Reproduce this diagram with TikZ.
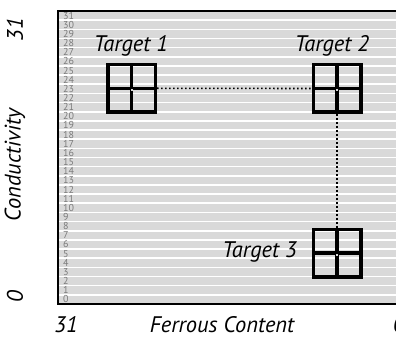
\documentclass[tikz,border=0pt]{standalone}
\usepackage{fontspec}
\setmainfont{PT Sans}
\definecolor{stripe}{HTML}{D9D9D9}
\definecolor{numgray}{HTML}{7A7A7A}
\begin{document}
\begin{tikzpicture}[x=1pt,y=-1pt,
  lbl/.style={font=\fontsize{22.5}{22.5}\selectfont\itshape, inner sep=0pt},
  rownum/.style={font=\fontsize{10}{10}\selectfont, text=numgray, anchor=west, inner sep=0pt},
  targetbox/.style={draw=black, line width=3.5pt, minimum width=47.5pt, minimum height=47.5pt, inner sep=0pt,
    path picture={
      \draw[line width=3.5pt] (path picture bounding box.north) -- (path picture bounding box.south);
      \draw[line width=3.5pt] (path picture bounding box.west) -- (path picture bounding box.east);
      \fill[stripe] ([xshift=-1pt,yshift=-1pt]path picture bounding box.center) rectangle ++(2pt,-2pt);
    }},
  link/.style={line width=1.6pt, dash pattern=on 1.6pt off 2.4pt}
]
\useasboundingbox (0,0) rectangle (396,339);
\clip (0,0) rectangle (396,339);
% stripes
\fill[stripe] (57,11) rectangle (420,304);
\foreach \i in {1,...,31} {
  \draw[white, line width=1.6pt] (58,{304-\i*9.156}) -- (420,{304-\i*9.156});
}
\foreach \i in {0,...,31} {
  \node[rownum] (n\i) at (63,{304-(\i+0.5)*9.156}) {\i};
}
% frame
\draw[line width=2pt] (57.5,11) rectangle (430,304);
% targets
\node[targetbox] (t1) at (131.5,88.3) {};
\node[targetbox] (t2) at (337,88.5) {};
\node[targetbox] (t3) at (337,253) {};
\draw[link] (t1.east) -- (t2.west);
\draw[link] (t2.south) -- (t3.north);
% target labels
\node[lbl] (l1) at (131,46) {Target 1};
\node[lbl] (l2) at (332,46) {Target 2};
\node[lbl, anchor=east] (l3) at (297,252) {Target 3};
% axes labels
\node[lbl, rotate=90] (ytop) at (15,30) {31};
\node[lbl, rotate=90] (ymid) at (15,165) {Conductivity};
\node[lbl, rotate=90] (ybot) at (15,297) {0};
\node[lbl] (xleft) at (66,325) {31};
\node[lbl] (xmid) at (222,325) {Ferrous Content};
\node[lbl] (xright) at (399,325) {0};
\end{tikzpicture}
\end{document}
